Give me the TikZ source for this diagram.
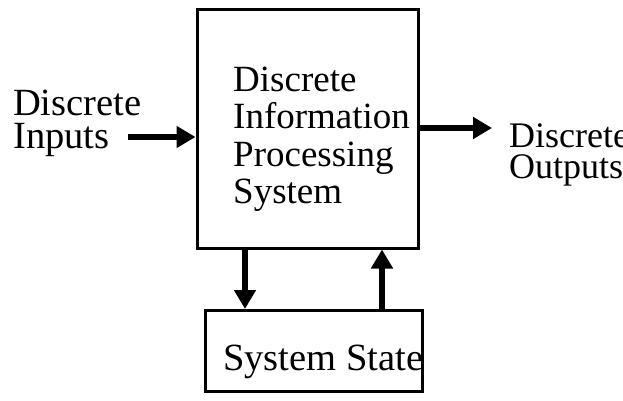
\documentclass[tikz,border=0pt]{standalone}
\usepackage{fontspec}
\setmainfont{Liberation Serif}
\usetikzlibrary{arrows.meta}
\begin{document}
\begin{tikzpicture}[x=1pt,y=-1pt,
  boxst/.style={draw, line width=3pt, inner sep=0pt},
  txt/.style={inner sep=0pt, align=left},
  solidarr/.style={line width=6pt, -{Triangle[length=19pt,width=21pt]}}]
\useasboundingbox (0,0) rectangle (623,401);
\clip (0,0) rectangle (623,401);
\fill[white] (0,0) rectangle (623,401);
% main box
\node[boxst, minimum width=221pt, minimum height=238pt] (dips) at (307.5,129) {};
\node[txt, anchor=north west, font=\fontsize{37}{37.3}\selectfont] (dipstext) at (233,67)
  {Discrete\\Information\\Processing\\System};
% inputs / outputs text
\node[txt, anchor=north west, font=\fontsize{38.5}{33.5}\selectfont] (intext) at (13,89.5)
  {Discrete\\Inputs};
\node[txt, anchor=north west, font=\fontsize{36}{31.5}\selectfont] (outtext) at (509,123)
  {Discrete\\Outputs};
% state
\node[txt, anchor=base west, font=\fontsize{38.5}{39}\selectfont] (statetext) at (223,370) {System State};
\node[boxst, minimum width=217pt, minimum height=81pt] (state) at (313.5,351) {};
% connectors
\coordinate (inA) at (128,137);
\coordinate (outB) at (492,128);
\coordinate (dn) at (245,0);
\coordinate (upc) at (382,0);
\draw[solidarr] (inA) -- (inA -| dips.west);
\draw[solidarr] (outB -| dips.east) -- (outB);
\draw[solidarr] (dn |- dips.south) -- (dn |- state.north);
\draw[solidarr] (upc |- state.north) -- (upc |- dips.south);
\end{tikzpicture}
\end{document}
